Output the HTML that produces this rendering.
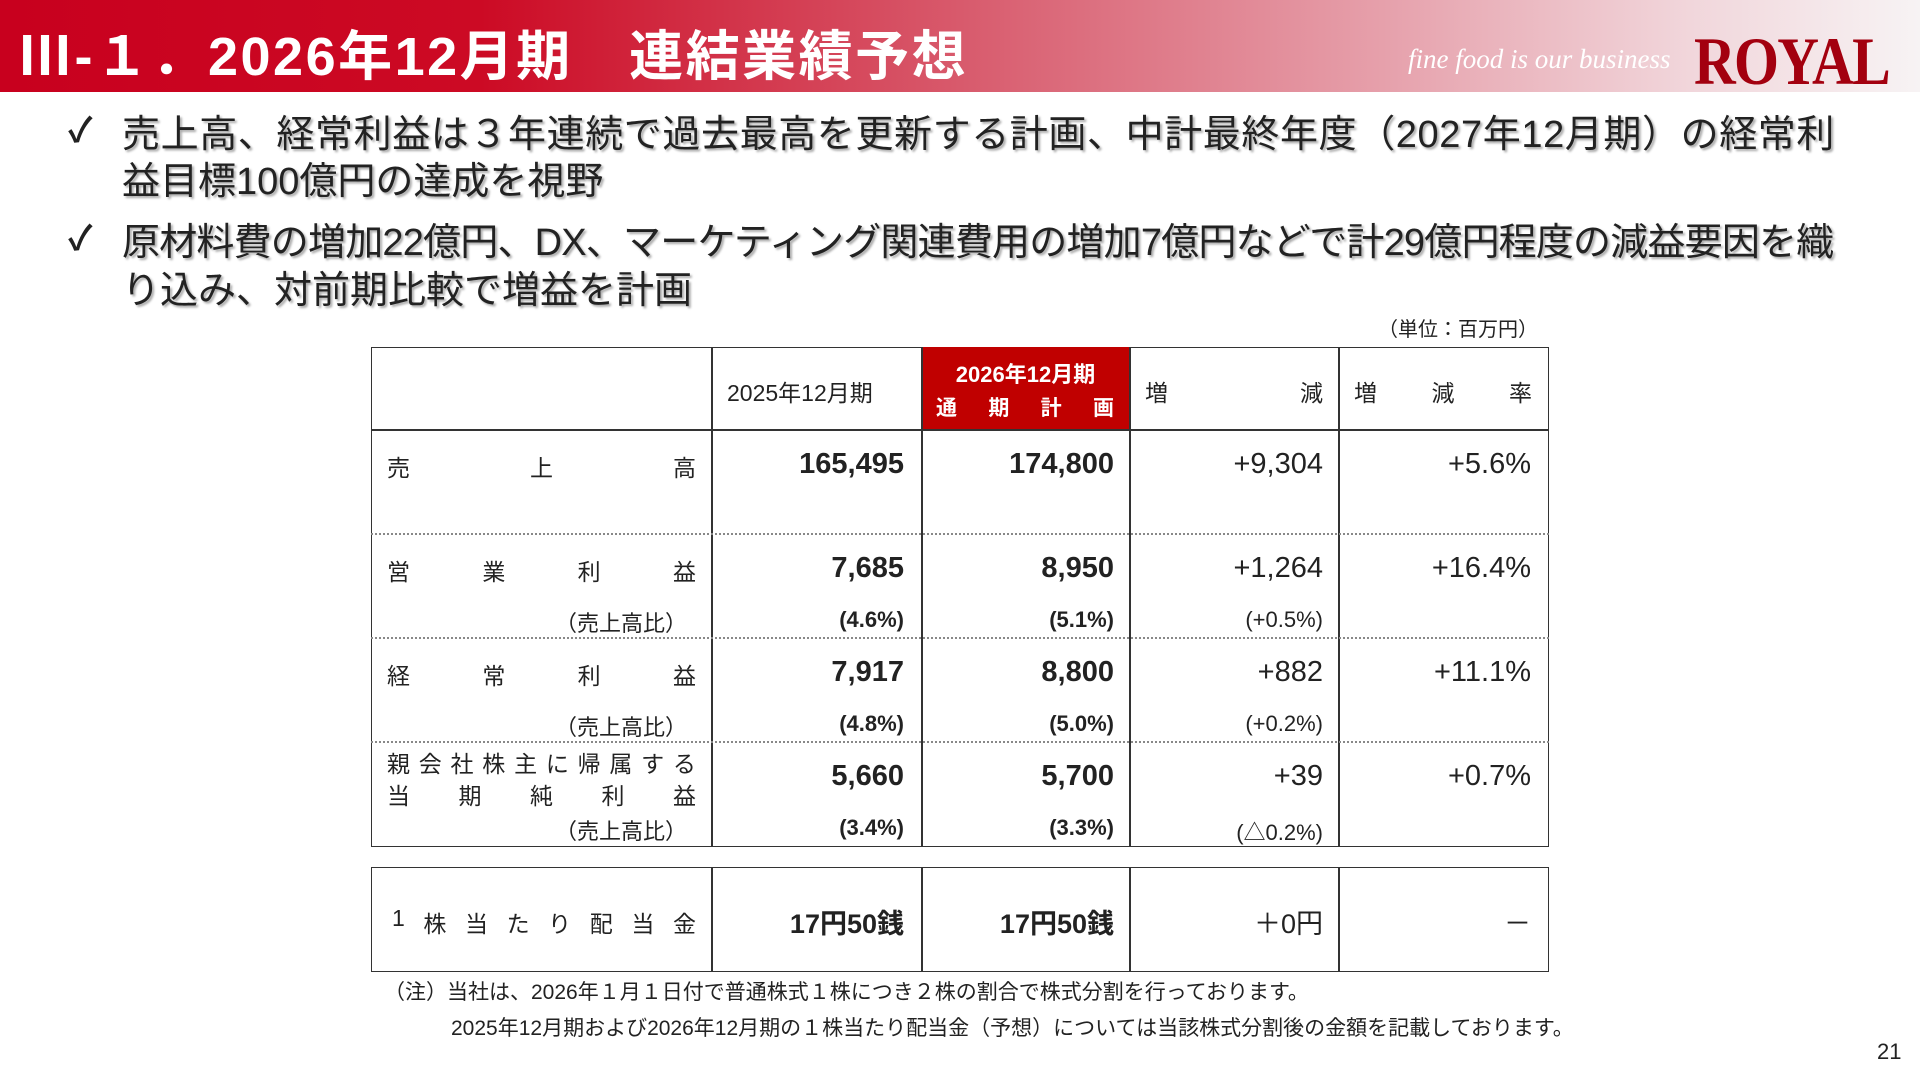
<!DOCTYPE html>
<html><head><meta charset="utf-8"><style>
*{margin:0;padding:0;box-sizing:border-box}
body{width:1920px;height:1080px;background:#fff;position:relative;overflow:hidden;font-family:"Liberation Sans","Noto Sans CJK JP",sans-serif;color:#222}
.hdr{position:absolute;left:0;top:0;width:1920px;height:92px;background:linear-gradient(90deg,#c8001e 0%,#cc0a24 25%,#d85a6c 50%,#e6a0ab 72%,#f1d6db 88%,#f7f3f4 100%)}
.title{position:absolute;left:18px;top:12px;font-size:54px;font-weight:bold;color:#fff;white-space:nowrap;letter-spacing:2.5px}
.tag{position:absolute;left:1408px;top:44px;font-family:"Liberation Serif",serif;font-style:italic;font-size:27px;color:#fff;white-space:nowrap}
.royal{position:absolute;left:1694px;top:22px;font-family:"Liberation Serif",serif;font-weight:bold;font-size:68px;color:#a3000f;white-space:nowrap;transform:scaleX(0.85);transform-origin:left top;letter-spacing:-2px}
.b{position:absolute;font-size:38px;color:#222;white-space:nowrap;text-shadow:2px 2px 2px #aaa}
.chk{position:absolute;font-size:34px;color:#222;font-weight:bold}
.abs{position:absolute;white-space:nowrap}
.tbl{position:absolute;border:1.5px solid #333}
.vl{position:absolute;width:1.5px;background:#333}
.hl{position:absolute;height:0;border-top:2px dotted #888}
.lab{position:absolute;display:flex;justify-content:space-between;font-size:23px;color:#222}
.num{position:absolute;text-align:right;font-weight:bold;font-size:29px;color:#222}
.dlt{position:absolute;text-align:right;font-size:29px;color:#222}
.sub{position:absolute;text-align:right;font-size:22px;color:#222}
.subb{position:absolute;text-align:right;font-size:22px;font-weight:bold;color:#222}
</style></head><body>
<div class="hdr"></div>
<div class="title">Ⅲ-１．2026年12月期　連結業績予想</div>
<div class="tag">fine food is our business</div>
<div class="royal">ROYAL</div>

<div class="chk" style="left:68px;top:103px">✓</div>
<div class="b" style="left:122px;top:103px;letter-spacing:0.6px">売上高、経常利益は３年連続で過去最高を更新する計画、中計最終年度（2027年12月期）の経常利</div>
<div class="b" style="left:122px;top:150px">益目標100億円の達成を視野</div>
<div class="chk" style="left:68px;top:211px">✓</div>
<div class="b" style="left:122px;top:211px;letter-spacing:-0.8px">原材料費の増加22億円、DX、マーケティング関連費用の増加7億円などで計29億円程度の減益要因を織</div>
<div class="b" style="left:122px;top:259px">り込み、対前期比較で増益を計画</div>
<div class="abs" style="left:1378px;top:313px;font-size:20px">（単位：百万円）</div>

<!-- main table -->
<div class="tbl" style="left:371px;top:347px;width:1178px;height:500px"></div>
<div style="position:absolute;left:921px;top:347px;width:209px;height:83px;background:#c00000"></div>
<div class="vl" style="left:711px;top:347px;height:500px"></div>
<div class="vl" style="left:921px;top:347px;height:500px"></div>
<div class="vl" style="left:1129px;top:347px;height:500px"></div>
<div class="vl" style="left:1338px;top:347px;height:500px"></div>
<div style="position:absolute;left:371px;top:429px;width:1178px;height:1.5px;background:#333"></div>
<div class="hl" style="left:371px;top:533px;width:1178px"></div>
<div class="hl" style="left:371px;top:637px;width:1178px"></div>
<div class="hl" style="left:371px;top:741px;width:1178px"></div>

<div class="abs" style="left:727px;top:374px;font-size:23px">2025年12月期</div>
<div class="abs" style="left:921px;top:357px;width:209px;text-align:center;font-size:22px;font-weight:bold;color:#fff">2026年12月期</div>
<div class="lab" style="left:936px;top:392px;width:178px;font-weight:bold;color:#fff;font-size:21px"><span>通</span><span>期</span><span>計</span><span>画</span></div>
<div class="lab" style="left:1145px;top:374px;width:178px"><span>増</span><span>減</span></div>
<div class="lab" style="left:1354px;top:374px;width:178px"><span>増</span><span>減</span><span>率</span></div>

<!-- row 1 -->
<div class="lab" style="left:387px;top:449px;width:309px"><span>売</span><span>上</span><span>高</span></div>
<div class="num" style="left:711px;top:448px;width:193px">165,495</div>
<div class="num" style="left:921px;top:448px;width:193px">174,800</div>
<div class="dlt" style="left:1129px;top:448px;width:194px">+9,304</div>
<div class="dlt" style="left:1338px;top:448px;width:193px">+5.6%</div>
<!-- row 2 -->
<div class="lab" style="left:387px;top:553px;width:309px"><span>営</span><span>業</span><span>利</span><span>益</span></div>
<div class="num" style="left:711px;top:552px;width:193px">7,685</div>
<div class="num" style="left:921px;top:552px;width:193px">8,950</div>
<div class="dlt" style="left:1129px;top:552px;width:194px">+1,264</div>
<div class="dlt" style="left:1338px;top:552px;width:193px">+16.4%</div>
<div class="sub" style="left:371px;top:606px;width:316px">（売上高比）</div>
<div class="subb" style="left:711px;top:607px;width:193px">(4.6%)</div>
<div class="subb" style="left:921px;top:607px;width:193px">(5.1%)</div>
<div class="sub" style="left:1129px;top:607px;width:194px">(+0.5%)</div>
<!-- row 3 -->
<div class="lab" style="left:387px;top:657px;width:309px"><span>経</span><span>常</span><span>利</span><span>益</span></div>
<div class="num" style="left:711px;top:656px;width:193px">7,917</div>
<div class="num" style="left:921px;top:656px;width:193px">8,800</div>
<div class="dlt" style="left:1129px;top:656px;width:194px">+882</div>
<div class="dlt" style="left:1338px;top:656px;width:193px">+11.1%</div>
<div class="sub" style="left:371px;top:710px;width:316px">（売上高比）</div>
<div class="subb" style="left:711px;top:711px;width:193px">(4.8%)</div>
<div class="subb" style="left:921px;top:711px;width:193px">(5.0%)</div>
<div class="sub" style="left:1129px;top:711px;width:194px">(+0.2%)</div>
<!-- row 4 -->
<div class="lab" style="left:387px;top:745px;width:309px"><span>親</span><span>会</span><span>社</span><span>株</span><span>主</span><span>に</span><span>帰</span><span>属</span><span>す</span><span>る</span></div>
<div class="lab" style="left:387px;top:777px;width:309px"><span>当</span><span>期</span><span>純</span><span>利</span><span>益</span></div>
<div class="num" style="left:711px;top:760px;width:193px">5,660</div>
<div class="num" style="left:921px;top:760px;width:193px">5,700</div>
<div class="dlt" style="left:1129px;top:760px;width:194px">+39</div>
<div class="dlt" style="left:1338px;top:760px;width:193px">+0.7%</div>
<div class="sub" style="left:371px;top:814px;width:316px">（売上高比）</div>
<div class="subb" style="left:711px;top:815px;width:193px">(3.4%)</div>
<div class="subb" style="left:921px;top:815px;width:193px">(3.3%)</div>
<div class="sub" style="left:1129px;top:815px;width:194px">(△0.2%)</div>

<!-- dividend table -->
<div class="tbl" style="left:371px;top:867px;width:1178px;height:105px"></div>
<div class="vl" style="left:711px;top:867px;height:105px"></div>
<div class="vl" style="left:921px;top:867px;height:105px"></div>
<div class="vl" style="left:1129px;top:867px;height:105px"></div>
<div class="vl" style="left:1338px;top:867px;height:105px"></div>
<div class="lab" style="left:392px;top:905px;width:304px"><span>1</span><span>株</span><span>当</span><span>た</span><span>り</span><span>配</span><span>当</span><span>金</span></div>
<div class="num" style="left:711px;top:902px;width:193px;font-size:27px">17円50銭</div>
<div class="num" style="left:921px;top:902px;width:193px;font-size:27px">17円50銭</div>
<div class="dlt" style="left:1129px;top:902px;width:194px;font-size:27px">＋0円</div>
<div class="dlt" style="left:1338px;top:902px;width:193px;font-size:27px">－</div>

<div class="abs" style="left:384px;top:976px;font-size:21px">（注）当社は、2026年１月１日付で普通株式１株につき２株の割合で株式分割を行っております。</div>
<div class="abs" style="left:451px;top:1012px;font-size:21px">2025年12月期および2026年12月期の１株当たり配当金（予想）については当該株式分割後の金額を記載しております。</div>
<div class="abs" style="left:1877px;top:1039px;font-size:22px">21</div>
</body></html>
